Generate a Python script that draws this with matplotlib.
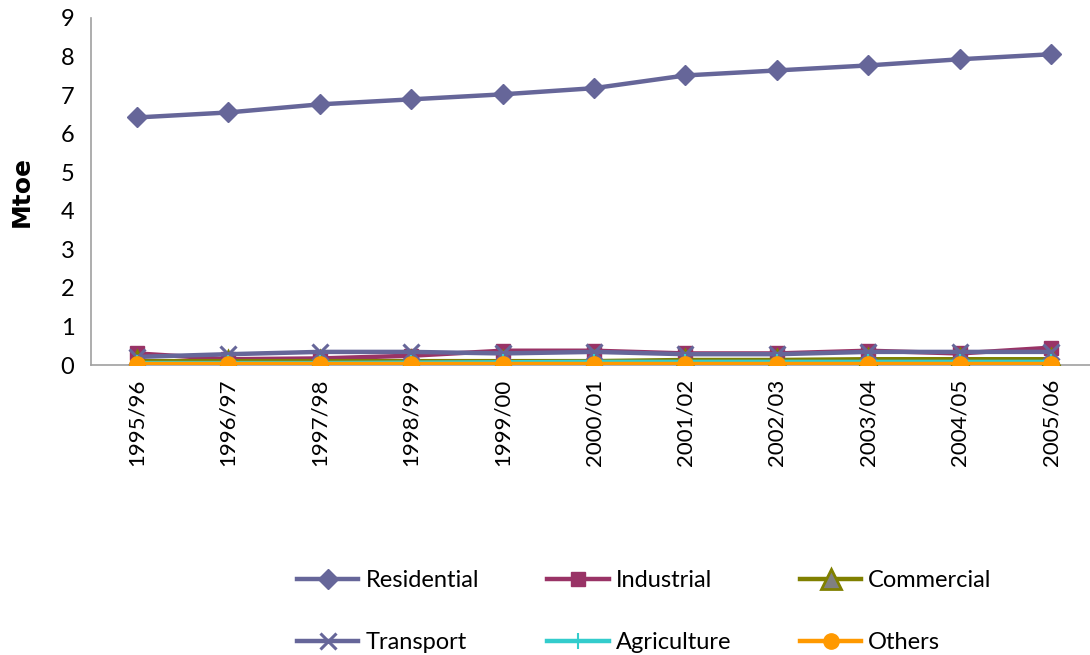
import matplotlib
matplotlib.use("Agg")
import matplotlib.pyplot as plt

FONT = ["Lato", "DejaVu Sans"]
plt.rcParams["font.family"] = FONT

years = ["1995/96", "1996/97", "1997/98", "1998/99", "1999/00", "2000/01",
         "2001/02", "2002/03", "2003/04", "2004/05", "2005/06"]

residential = [6.42, 6.55, 6.76, 6.89, 7.02, 7.18, 7.51, 7.64, 7.77, 7.93, 8.06]
industrial = [0.30, 0.15, 0.17, 0.24, 0.37, 0.37, 0.30, 0.30, 0.37, 0.30, 0.45]
commercial = [0.10, 0.10, 0.10, 0.10, 0.10, 0.10, 0.13, 0.13, 0.15, 0.15, 0.15]
transport = [0.21, 0.28, 0.34, 0.34, 0.30, 0.34, 0.28, 0.28, 0.34, 0.34, 0.34]
agriculture = [0.05, 0.05, 0.05, 0.06, 0.07, 0.08, 0.08, 0.08, 0.08, 0.08, 0.08]
others = [0.02, 0.02, 0.02, 0.02, 0.02, 0.02, 0.02, 0.02, 0.02, 0.02, 0.02]

fig = plt.figure(figsize=(10.9, 6.55), dpi=100)
ax = fig.add_axes([91 / 1090, 1 - 365 / 655, 1006 / 1090, 347 / 655])

x = list(range(len(years)))
lw = 3.2
ax.plot(x, residential, color="#666699", lw=lw, marker="D", ms=10,
        mfc="#666699", mec="#666699", label="Residential", zorder=3)
ax.plot(x, industrial, color="#993366", lw=lw, marker="s", ms=10,
        mfc="#993366", mec="#993366", label="Industrial", zorder=3)
ax.plot(x, commercial, color="#808000", lw=lw, marker="^", ms=14,
        mfc="#808080", mec="#808000", mew=2, label="Commercial", zorder=3)
ax.plot(x, transport, color="#666699", lw=lw, marker="x", ms=12, mew=2.2,
        mec="#666699", label="Transport", zorder=4)
ax.plot(x, agriculture, color="#33cccc", lw=lw, marker="|", ms=12, mew=1.5,
        mec="#33cccc", label="Agriculture", zorder=4)
ax.plot(x, others, color="#ff9900", lw=lw, marker="o", ms=11,
        mfc="#ff9900", mec="#ff9900", label="Others", zorder=5)

ax.set_xlim(-0.5, len(years) - 0.5)
ax.set_ylim(0, 9)
ax.set_yticks(range(0, 10))
ax.set_xticks(x)
ax.set_xticklabels(years, rotation=90, fontsize=16)
ax.tick_params(axis="y", labelsize=17, length=0, pad=12)
ax.tick_params(axis="x", length=0, pad=10)
for s in ("top", "right"):
    ax.spines[s].set_visible(False)
for s in ("left", "bottom"):
    ax.spines[s].set_color("#a0a0a0")
    ax.spines[s].set_linewidth(1.2)
ax.set_ylabel("Mtoe", fontsize=18, fontweight="bold", family="DejaVu Sans",
              labelpad=19)

# legend is filled column by column, so interleave to read row-wise
h, l = ax.get_legend_handles_labels()
order = [0, 3, 1, 4, 2, 5]
ax.legend([h[i] for i in order], [l[i] for i in order],
          loc="upper left", bbox_to_anchor=(297 / 1090, 1 - 570 / 655),
          bbox_transform=fig.transFigure, ncol=3, frameon=False,
          fontsize=17, handlelength=2.6, columnspacing=2.9, labelspacing=1.75,
          handletextpad=0.3, borderaxespad=0, borderpad=0)

fig.savefig("out.png", dpi=100, facecolor="white")
